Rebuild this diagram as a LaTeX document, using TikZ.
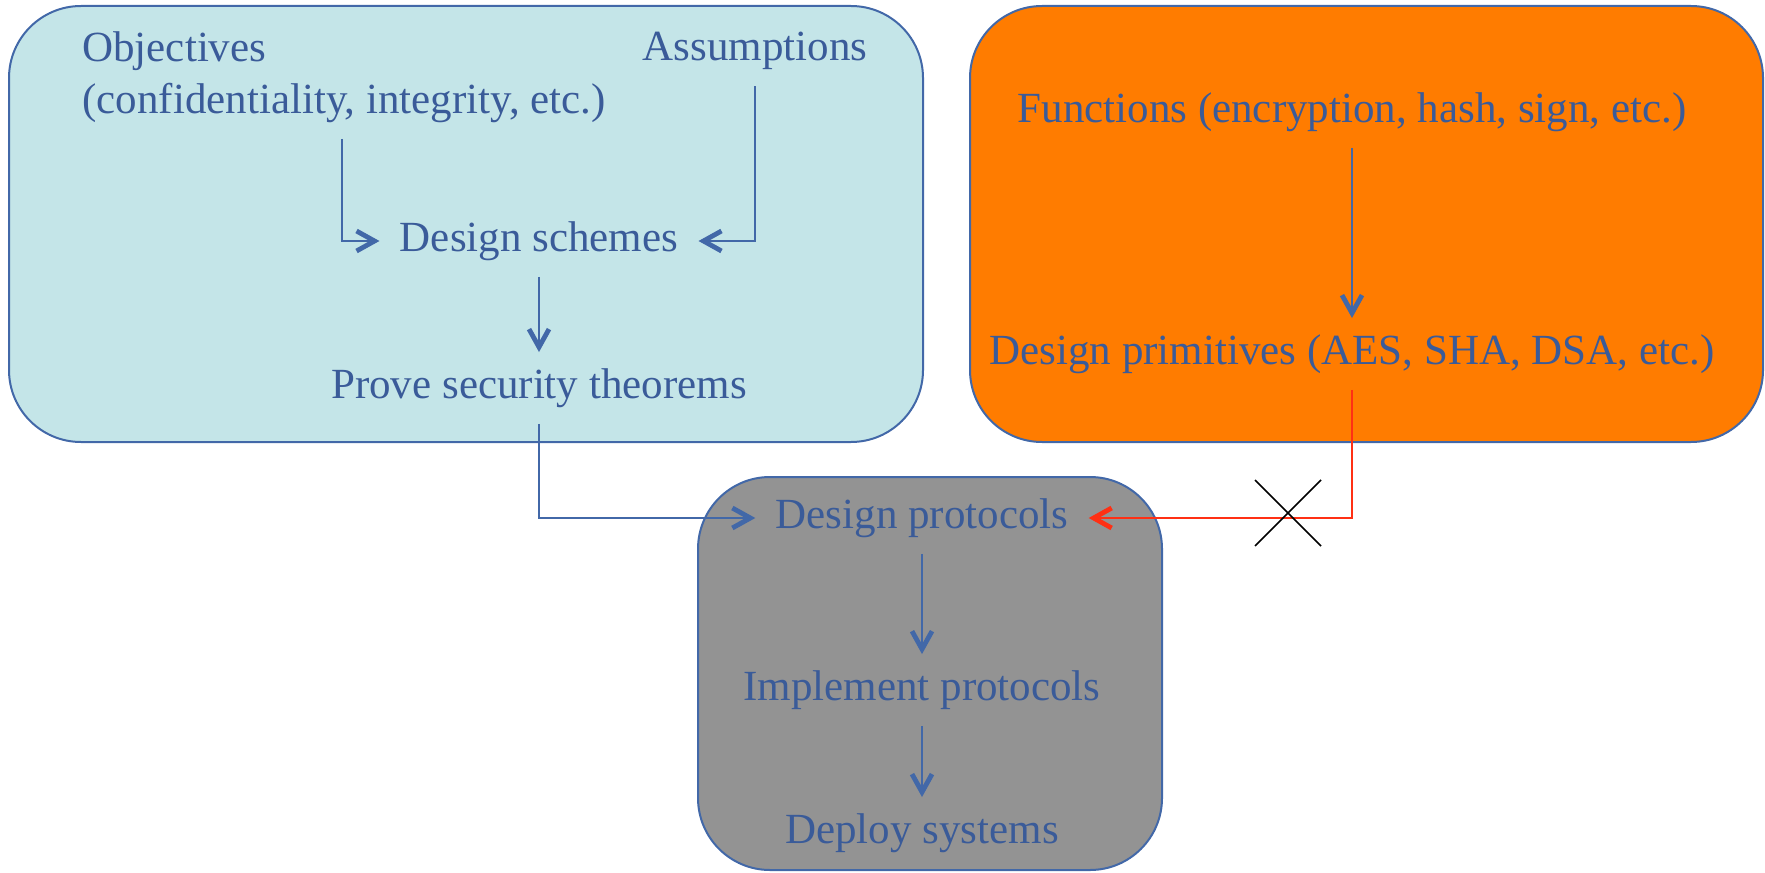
\documentclass[tikz,border=0pt]{standalone}
\usepackage{fontspec}
\setmainfont{Liberation Serif}
\usetikzlibrary{arrows.meta}
\definecolor{txtblue}{RGB}{58,91,153}
\definecolor{lineblue}{RGB}{66,104,168}
\definecolor{paleblue}{RGB}{196,229,232}
\definecolor{hotorange}{RGB}{255,124,0}
\definecolor{midgray}{RGB}{147,147,147}
\definecolor{crossred}{RGB}{255,48,20}
\tikzset{%
  txt/.style   = {text=txtblue, font=\fontsize{21.5}{26}\selectfont,%
                  inner xsep=10pt, inner ysep=8pt},%
  flow/.style  = {draw=lineblue, line width=1pt,%
                  -{Straight Barb[length=9pt,width=10pt,line width=2.4pt]}},%
  bad/.style   = {flow, draw=crossred},%
  panel/.style = {draw=lineblue, line width=1pt, rounded corners=36pt}%
}

\begin{document}
\begin{tikzpicture}[x=0.5pt,y=-0.5pt]
	\useasboundingbox (0,0) rectangle (1765,872);
	% the three panels
	\draw [panel,fill=paleblue] (9,6) rectangle (923,442);
	\draw [panel,fill=hotorange] (970,6) rectangle (1763,442);
	\draw [panel,fill=midgray] (698,477) rectangle (1162,870);
	% theory side
	\node [txt,anchor=west,align=left] (obj) at (62,77) {Objectives\\(confidentiality, integrity, etc.)};
	\node [txt] (asm) at (755,51) {Assumptions};
	\node [txt] (ds) at (539,241) {Design schemes};
	\node [txt] (pst) at (539,388) {Prove security theorems};
	% practice side
	\node [txt] (fun) at (1352,112) {Functions (encryption, hash, sign, etc.)};
	\node [txt] (prim) at (1352,354) {Design primitives (AES, SHA, DSA, etc.)};
	\node [txt] (dp) at (922,518) {Design protocols};
	\node [txt] (ip) at (922,690) {Implement protocols};
	\node [txt] (dsys) at (922,833) {Deploy systems};
	\coordinate (objx) at (342,0);
	\coordinate (cross) at (1288,513);
	\draw [flow] (obj.south -| objx) |- (ds.west);
	\draw [flow] (asm.south) |- (ds.east);
	\draw [flow] (ds) -- (pst);
	\draw [flow] (pst.south) |- (dp.west);
	\draw [flow] (fun) -- (prim);
	\draw [bad] (prim.south) |- (dp.east);
	\draw [flow] (dp) -- (ip);
	\draw [flow] (ip) -- (dsys);
	\draw [black,line width=0.8pt] ([shift={(-33,-33)}]cross) -- ([shift={(33,33)}]cross)
		([shift={(-33,33)}]cross) -- ([shift={(33,-33)}]cross);
\end{tikzpicture}
\end{document}
